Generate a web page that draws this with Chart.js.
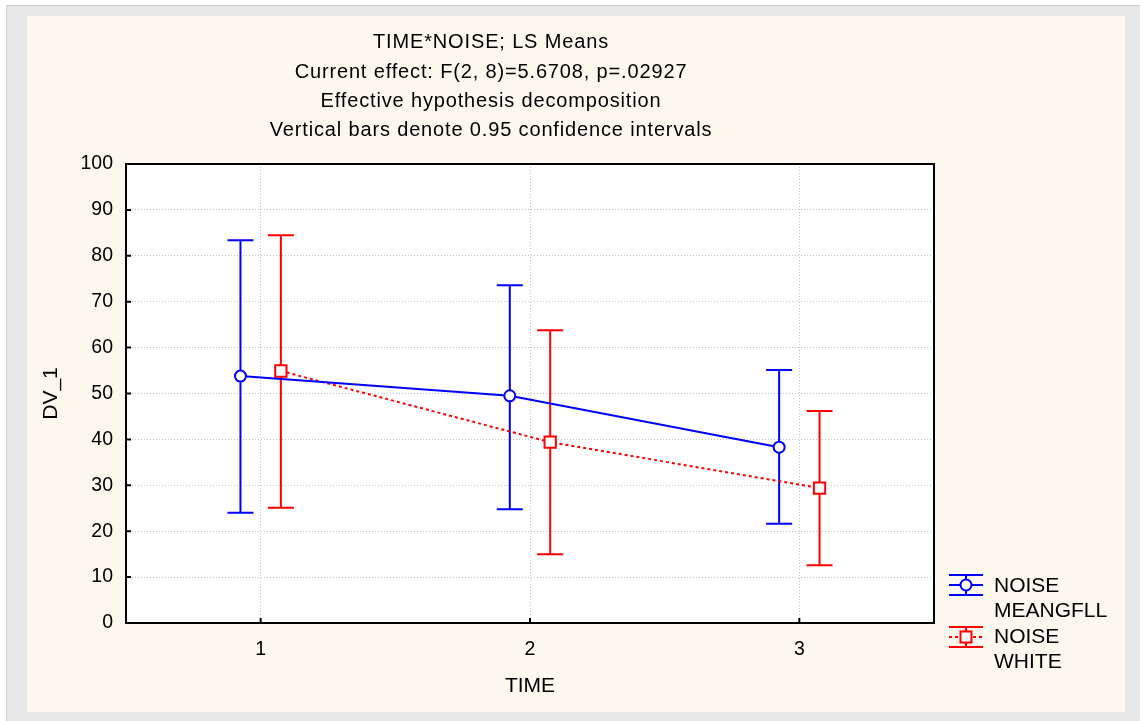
<!DOCTYPE html>
<html>
<head>
<meta charset="utf-8">
<script src="https://cdn.jsdelivr.net/npm/chart.js@4.4.0/dist/chart.umd.min.js"></script>
<style>
  html, body { margin: 0; padding: 0; background: #ffffff; }
  #wrap { position: absolute; left: 0; top: 0; width: 1140px; height: 721px; }
</style>
</head>
<body>
<div id="wrap"><canvas id="lsChart" width="1140" height="721"></canvas></div>
<script>
// data
const timePoints = [1, 2, 3];
const timeLabels = ['1', '2', '3'];
const meangfllMeans = [53.8, 49.5, 38.3];
const meangfllLower = [24.0, 24.8, 21.6];
const meangfllUpper = [83.4, 73.6, 55.1];
const whiteMeans = [54.9, 39.4, 29.4];
const whiteLower = [25.1, 15.0, 12.6];
const whiteUpper = [84.5, 63.8, 46.2];
const titleLines = [
    'TIME*NOISE; LS Means',
    'Current effect: F(2, 8)=5.6708, p=.02927',
    'Effective hypothesis decomposition',
    'Vertical bars denote 0.95 confidence intervals'
];
const legendLines = [['NOISE', 'MEANGFLL'], ['NOISE', 'WHITE']];

const FONT = '"Liberation Sans", Arial, sans-serif';
const BLUE = '#0000ff';
const RED = '#ff0000';
const OFFSET = 0.075; // side-by-side shift of the two series

const bounds = [
    { lower: meangfllLower, upper: meangfllUpper, color: BLUE },
    { lower: whiteLower, upper: whiteUpper, color: RED }
];

// page background, cream panel, white plot area
const backgroundPlugin = {
    id: 'background',
    beforeDraw(chart) {
        const ctx = chart.ctx;
        const a = chart.chartArea;
        ctx.save();
        ctx.fillStyle = '#ffffff';
        ctx.fillRect(0, 0, chart.width, chart.height);
        ctx.fillStyle = '#e8e8e8';
        ctx.fillRect(6, 5, chart.width - 6, chart.height - 5);
        ctx.strokeStyle = '#cfcfcf';
        ctx.lineWidth = 1;
        ctx.strokeRect(6.5, 5.5, chart.width, chart.height);
        ctx.fillStyle = '#fcf8ed';
        ctx.fillRect(27, 16, 1098, 696);
        ctx.fillStyle = '#ffffff';
        ctx.fillRect(a.left, a.top, a.right - a.left, a.bottom - a.top);
        ctx.restore();
    }
};

// frame, inward ticks and confidence bars
const errorBarPlugin = {
    id: 'errorBars',
    beforeDatasetsDraw(chart) {
        const ctx = chart.ctx;
        const a = chart.chartArea;
        const xs = chart.scales.x;
        const ys = chart.scales.y;
        ctx.save();
        ctx.strokeStyle = '#000';
        ctx.lineWidth = 2;
        ctx.strokeRect(a.left, a.top, a.right - a.left, a.bottom - a.top);
        ctx.beginPath();
        ys.ticks.forEach(t => {
            const y = ys.getPixelForValue(t.value);
            ctx.moveTo(a.left, y);
            ctx.lineTo(a.left + 5, y);
        });
        xs.ticks.forEach(t => {
            const x = xs.getPixelForValue(t.value);
            ctx.moveTo(x, a.bottom);
            ctx.lineTo(x, a.bottom - 5);
        });
        ctx.stroke();

        chart.data.datasets.forEach((ds, di) => {
            const b = bounds[di];
            ctx.strokeStyle = b.color;
            ctx.lineWidth = 2;
            ctx.beginPath();
            ds.data.forEach((p, i) => {
                const x = xs.getPixelForValue(p.x);
                const yl = ys.getPixelForValue(b.lower[i]);
                const yu = ys.getPixelForValue(b.upper[i]);
                ctx.moveTo(x, yl);
                ctx.lineTo(x, yu);
                ctx.moveTo(x - 13, yl);
                ctx.lineTo(x + 13, yl);
                ctx.moveTo(x - 13, yu);
                ctx.lineTo(x + 13, yu);
            });
            ctx.stroke();
        });
        ctx.restore();
    }
};

// title block and legend
const textPlugin = {
    id: 'texts',
    afterDraw(chart) {
        const ctx = chart.ctx;
        ctx.save();
        ctx.fillStyle = '#000';
        ctx.textAlign = 'center';
        ctx.textBaseline = 'middle';
        ctx.font = '20px ' + FONT;
        ctx.letterSpacing = '0.85px';
        const titleY = [42, 72, 101, 130];
        titleLines.forEach((line, i) => ctx.fillText(line, 491, titleY[i]));
        ctx.letterSpacing = '0px';

        // legend symbols
        const symbols = [
            { cy: 585, color: BLUE, dash: [], marker: 'circle' },
            { cy: 637, color: RED, dash: [3, 3], marker: 'rect' }
        ];
        symbols.forEach(s => {
            ctx.strokeStyle = s.color;
            ctx.lineWidth = 2;
            ctx.setLineDash([]);
            ctx.beginPath();
            ctx.moveTo(949, s.cy - 10); ctx.lineTo(983, s.cy - 10);
            ctx.moveTo(949, s.cy + 10); ctx.lineTo(983, s.cy + 10);
            ctx.moveTo(966, s.cy - 10); ctx.lineTo(966, s.cy + 10);
            ctx.stroke();
            ctx.setLineDash(s.dash);
            ctx.beginPath();
            ctx.moveTo(949, s.cy); ctx.lineTo(983, s.cy);
            ctx.stroke();
            ctx.setLineDash([]);
            ctx.fillStyle = '#fff';
            ctx.beginPath();
            if (s.marker === 'circle') {
                ctx.arc(966, s.cy, 5.5, 0, Math.PI * 2);
            } else {
                ctx.rect(960.5, s.cy - 5.5, 11, 11);
            }
            ctx.fill();
            ctx.lineWidth = 2;
            ctx.stroke();
        });

        ctx.fillStyle = '#000';
        ctx.textAlign = 'left';
        ctx.font = '21px ' + FONT;
        const legendY = [[586, 611], [637, 662]];
        legendLines.forEach((pair, i) => {
            pair.forEach((txt, j) => ctx.fillText(txt, 994, legendY[i][j]));
        });
        ctx.restore();
    }
};

const gridColor = '#c4c4c4';

new Chart(document.getElementById('lsChart'), {
    type: 'scatter',
    data: {
        datasets: [{
            label: 'NOISE MEANGFLL',
            data: timePoints.map((t, i) => ({ x: t - OFFSET, y: meangfllMeans[i] })),
            showLine: true,
            borderColor: BLUE,
            borderWidth: 2,
            pointStyle: 'circle',
            pointRadius: 5.5,
            pointBorderWidth: 2,
            pointBorderColor: BLUE,
            pointBackgroundColor: '#ffffff'
        }, {
            label: 'NOISE WHITE',
            data: timePoints.map((t, i) => ({ x: t + OFFSET, y: whiteMeans[i] })),
            showLine: true,
            borderColor: RED,
            borderWidth: 2,
            borderDash: [3, 3],
            pointStyle: 'rect',
            pointRadius: 8,
            pointBorderWidth: 2,
            pointBorderColor: RED,
            pointBackgroundColor: '#ffffff'
        }]
    },
    options: {
        responsive: false,
        animation: false,
        events: [],
        layout: { padding: { left: 0, top: 164, right: 206, bottom: 0 } },
        plugins: {
            legend: { display: false },
            title: { display: false },
            tooltip: { enabled: false }
        },
        scales: {
            x: {
                type: 'linear',
                min: 0.5,
                max: 3.5,
                afterBuildTicks: scale => { scale.ticks = timePoints.map(v => ({ value: v })); },
                afterFit: scale => { scale.height = 98; },
                ticks: {
                    callback: (v) => timeLabels[timePoints.indexOf(v)],
                    font: { family: FONT, size: 19.5 },
                    color: '#000',
                    padding: 15,
                    maxRotation: 0
                },
                grid: { color: gridColor, lineWidth: 1, drawTicks: false },
                border: { display: false, dash: [1, 2] },
                title: {
                    display: true,
                    text: 'TIME',
                    font: { family: FONT, size: 21 },
                    color: '#000',
                    padding: { top: 0, bottom: 22 }
                }
            },
            y: {
                min: 0,
                max: 100,
                afterFit: scale => { scale.width = 126; },
                ticks: {
                    stepSize: 10,
                    font: { family: FONT, size: 19.5 },
                    color: '#000',
                    padding: 13
                },
                grid: { color: gridColor, lineWidth: 1, drawTicks: false },
                border: { display: false, dash: [1, 2] },
                title: {
                    display: true,
                    text: 'DV_1',
                    font: { family: FONT, size: 21 },
                    color: '#000',
                    padding: { top: 39, bottom: 0 }
                }
            }
        }
    },
    plugins: [backgroundPlugin, errorBarPlugin, textPlugin]
});
</script>
</body>
</html>
